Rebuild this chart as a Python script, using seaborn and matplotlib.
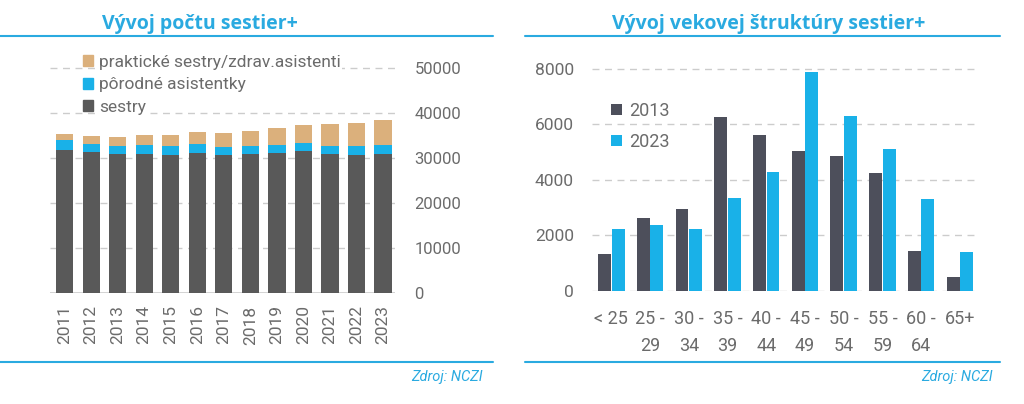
import pandas as pd
import matplotlib
matplotlib.use('Agg')
import matplotlib.pyplot as plt
from matplotlib.lines import Line2D
from matplotlib.patches import Patch
import seaborn as sns

# data - left chart (pocet sestier+)
roky = ['2011', '2012', '2013', '2014', '2015', '2016', '2017',
        '2018', '2019', '2020', '2021', '2022', '2023']
sestry = [31800, 31200, 30900, 30900, 30700, 31000, 30500,
          30900, 31100, 31500, 30900, 30700, 30900]
porodne = [2050, 1900, 1800, 2000, 1900, 2000, 1900,
           1800, 1800, 1800, 1800, 1900, 1900]
prakticke = [1350, 1700, 2000, 2100, 2400, 2700, 3000,
             3200, 3600, 4000, 4700, 5000, 5600]
ticks_left = [0, 10000, 20000, 30000, 40000, 50000]

# data - right chart (vekova struktura)
vek = ['< 25', '25 -\n29', '30 -\n34', '35 -\n39', '40 -\n44',
       '45 -\n49', '50 -\n54', '55 -\n59', '60 -\n64', '65+']
rok_2013 = [1340, 2630, 2960, 6260, 5630, 5040, 4870, 4250, 1450, 510]
rok_2023 = [2220, 2370, 2220, 3350, 4290, 7880, 6310, 5100, 3310, 1400]
ticks_right = [0, 2000, 4000, 6000, 8000]

DARK = '#595959'
DARK2 = '#4d4f5b'
CYAN = '#19b1e8'
TAN = '#dbb07c'
TITLE_C = '#2aaae0'
GRID = '#cccccc'
TXT = '#6b6b6b'

sns.set_style('white')
plt.rcParams['font.family'] = ['Roboto', 'DejaVu Sans']

fig = plt.figure(figsize=(10.24, 4.04), dpi=100)
W, H = 1024, 404


def fx(px):
    return px / W


def fy(py):
    return 1 - py / H


# ---- left chart
ax1 = fig.add_axes([fx(50), fy(293), fx(345), 239 / H])
s1 = [a + b for a, b in zip(sestry, porodne)]
s2 = [a + b for a, b in zip(s1, prakticke)]
df1 = pd.DataFrame({'rok': roky, 'tot': s2, 'mid': s1, 'low': sestry})
for t in ticks_left[1:]:
    ax1.axhline(t, color=GRID, linewidth=1, linestyle=(0, (5, 4)), zorder=0)
ax1.axhline(0, color=GRID, linewidth=1.2, zorder=1)
# stacked bars drawn as overlapping cumulative totals
sns.barplot(data=df1, x='rok', y='tot', color=TAN, width=0.65, saturation=1,
            linewidth=0, ax=ax1, zorder=2)
sns.barplot(data=df1, x='rok', y='mid', color=CYAN, width=0.65, saturation=1,
            linewidth=0, ax=ax1, zorder=3)
sns.barplot(data=df1, x='rok', y='low', color=DARK, width=0.65, saturation=1,
            linewidth=0, ax=ax1, zorder=4)
ax1.set_xlim(-0.55, 12.45)
ax1.set_ylim(0, 53000)
ax1.set_yticks(ticks_left)
ax1.yaxis.tick_right()
ax1.tick_params(axis='y', length=0, pad=14, labelsize=12, labelcolor=TXT)
ax1.tick_params(axis='x', length=0, pad=9, labelsize=12.5, labelcolor=TXT, rotation=90)
ax1.set_xlabel('')
ax1.set_ylabel('')
sns.despine(ax=ax1, left=True, bottom=True, right=True, top=True)

handles1 = [Patch(color=TAN, label='praktické sestry/zdrav.asistenti'),
            Patch(color=CYAN, label='pôrodné asistentky'),
            Patch(color=DARK, label='sestry')]
leg1 = ax1.legend(handles=handles1, loc='upper left', bbox_to_anchor=(fx(83), fy(55)),
                  bbox_transform=fig.transFigure, frameon=False, fontsize=12.5,
                  handlelength=0.6, handleheight=0.6, handletextpad=0.35,
                  labelspacing=0.42, borderpad=0, borderaxespad=0)
for t in leg1.get_texts():
    t.set_color(TXT)
    t.set_bbox(dict(facecolor='white', edgecolor='none', pad=0.5))

# ---- right chart
ax2 = fig.add_axes([fx(592), fy(291), fx(388), 236 / H])
df2 = pd.DataFrame({'vek': vek * 2,
                    'pocet': rok_2013 + rok_2023,
                    'rok': ['2013'] * len(vek) + ['2023'] * len(vek)})
for t in ticks_right:
    ax2.axhline(t, color=GRID, linewidth=1, linestyle=(0, (5, 4)), zorder=0)
sns.barplot(data=df2, x='vek', y='pocet', hue='rok', palette=[DARK2, CYAN],
            width=0.7, gap=0.05, saturation=1, linewidth=0, ax=ax2, zorder=2)
ax2.set_xlim(-0.5, 9.52)
ax2.set_ylim(0, 8500)
ax2.set_yticks(ticks_right)
ax2.tick_params(axis='y', length=0, pad=13, labelsize=12.5, labelcolor=TXT)
ax2.tick_params(axis='x', length=0, pad=14, labelsize=13, labelcolor=TXT)
for lab in ax2.get_xticklabels():
    lab.set_linespacing(1.6)
ax2.set_xlabel('')
ax2.set_ylabel('')
sns.despine(ax=ax2, left=True, bottom=True, right=True, top=True)
ax2.legend(loc='upper left', bbox_to_anchor=(fx(611), fy(102)),
           bbox_transform=fig.transFigure, frameon=False, fontsize=13,
           handlelength=0.6, handleheight=0.6, handletextpad=0.4,
           labelspacing=0.72, borderpad=0, borderaxespad=0, labelcolor=TXT)

# ---- titles, rules, source
title_font = ['Open Sans', 'DejaVu Sans']
fig.text(fx(200), fy(24), 'Vývoj počtu sestier+', ha='center', va='center',
         fontsize=14, fontweight='bold', color=TITLE_C, family=title_font)
fig.text(fx(769), fy(24), 'Vývoj vekovej štruktúry sestier+', ha='center', va='center',
         fontsize=14, fontweight='bold', color=TITLE_C, family=title_font)

for x0, x1 in [(0, 493), (525, 1000)]:
    for yy in [36, 362]:
        fig.add_artist(Line2D([fx(x0), fx(x1)], [fy(yy), fy(yy)],
                              transform=fig.transFigure, color=TITLE_C, linewidth=1.5))

fig.text(fx(483), fy(377), 'Zdroj: NCZI', ha='right', va='center',
         fontsize=10.5, style='italic', color=TITLE_C)
fig.text(fx(993), fy(377), 'Zdroj: NCZI', ha='right', va='center',
         fontsize=10.5, style='italic', color=TITLE_C)

fig.savefig('out.png', dpi=100, facecolor='white')
